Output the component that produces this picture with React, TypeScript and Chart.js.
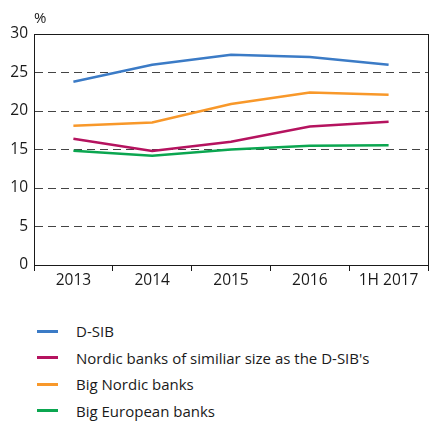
import React, { useEffect, useRef } from "react";
import { Chart, registerables } from "chart.js";

Chart.register(...registerables);

const categories = ["2013", "2014", "2015", "2016", "1H 2017"];
const dsib = [23.8, 26.0, 27.3, 27.0, 26.0];
const nordicSimilar = [16.4, 14.8, 16.0, 18.0, 18.6];
const bigNordic = [18.1, 18.5, 20.9, 22.4, 22.1];
const bigEuropean = [14.85, 14.2, 15.0, 15.5, 15.55];
const seriesNames = [
  "D-SIB",
  "Nordic banks of similiar size as the D-SIB's",
  "Big Nordic banks",
  "Big European banks",
];
const seriesColors = ["#3b7bc6", "#b5135f", "#f8982a", "#0ba650"];
const yUnit = "%";

const FONT = "'Open Sans', 'Noto Sans', sans-serif";

const boxPlugin = {
  id: "boxPlugin",
  afterDraw(chart: any) {
    const { ctx, chartArea } = chart;
    ctx.save();
    ctx.strokeStyle = "#1a1a1a";
    ctx.lineWidth = 1;
    ctx.setLineDash([]);
    ctx.strokeRect(
      Math.round(chartArea.left) + 0.5,
      Math.round(chartArea.top) + 0.5,
      Math.round(chartArea.right - chartArea.left),
      Math.round(chartArea.bottom - chartArea.top)
    );
    ctx.fillStyle = "#1a1a1a";
    ctx.font = `15px ${FONT}`;
    ctx.textAlign = "left";
    ctx.textBaseline = "alphabetic";
    ctx.fillText(yUnit, chartArea.left, chartArea.top - 11);
    ctx.restore();
  },
};

export default function App() {
  const ref = useRef<HTMLCanvasElement | null>(null);

  useEffect(() => {
    document.body.style.margin = "0";
    if (!ref.current) return;
    const data = [dsib, nordicSimilar, bigNordic, bigEuropean];
    const chart = new Chart(ref.current, {
      type: "line",
      data: {
        labels: categories,
        datasets: data.map((d, i) => ({
          label: seriesNames[i],
          data: d,
          borderColor: seriesColors[i],
          backgroundColor: seriesColors[i],
          borderWidth: 2.5,
          pointRadius: 0,
          tension: 0,
          fill: false,
        })),
      },
      options: {
        animation: false,
        responsive: false,
        layout: { padding: { top: 34, right: 2, left: 0, bottom: 0 } },
        plugins: { legend: { display: false }, tooltip: { enabled: false } },
        scales: {
          x: {
            offset: true,
            grid: {
              offset: true,
              drawOnChartArea: false,
              drawTicks: true,
              tickLength: 6,
              color: "#1a1a1a",
            },
            border: { display: true, color: "#1a1a1a" },
            ticks: {
              color: "#1a1a1a",
              font: { family: FONT, size: 15.5 },
              padding: 0,
              maxRotation: 0,
            },
            afterFit(scale: any) {
              scale.height = 35;
            },
          },
          y: {
            min: 0,
            max: 30,
            ticks: {
              stepSize: 5,
              color: "#1a1a1a",
              font: { family: FONT, size: 15.5 },
              padding: 6,
            },
            grid: {
              drawTicks: false,
              color: (ctx: any) =>
                ctx.tick && (ctx.tick.value === 0 || ctx.tick.value === 30)
                  ? "rgba(0,0,0,0)"
                  : "#444444",
              lineWidth: 1,
            },
            border: { display: true, color: "#1a1a1a", dash: [8, 5] },
            afterFit(scale: any) {
              scale.width = 34;
            },
          },
        },
      },
      plugins: [boxPlugin],
    });
    return () => chart.destroy();
  }, []);

  return (
    <div style={{ position: "relative", width: 430, height: 421, fontFamily: FONT }}>
      <canvas ref={ref} width={430} height={300} style={{ display: "block" }} />
      <div style={{ position: "absolute", left: 37, top: 318 }}>
        {seriesNames.map((n, i) => (
          <div
            key={n}
            style={{ display: "flex", alignItems: "center", height: 26.5 }}
          >
            <span
              style={{
                display: "inline-block",
                width: 21,
                height: 3,
                background: seriesColors[i],
                marginRight: 18,
              }}
            />
            <span style={{ fontSize: 15, color: "#1a1a1a" }}>{n}</span>
          </div>
        ))}
      </div>
    </div>
  );
}
